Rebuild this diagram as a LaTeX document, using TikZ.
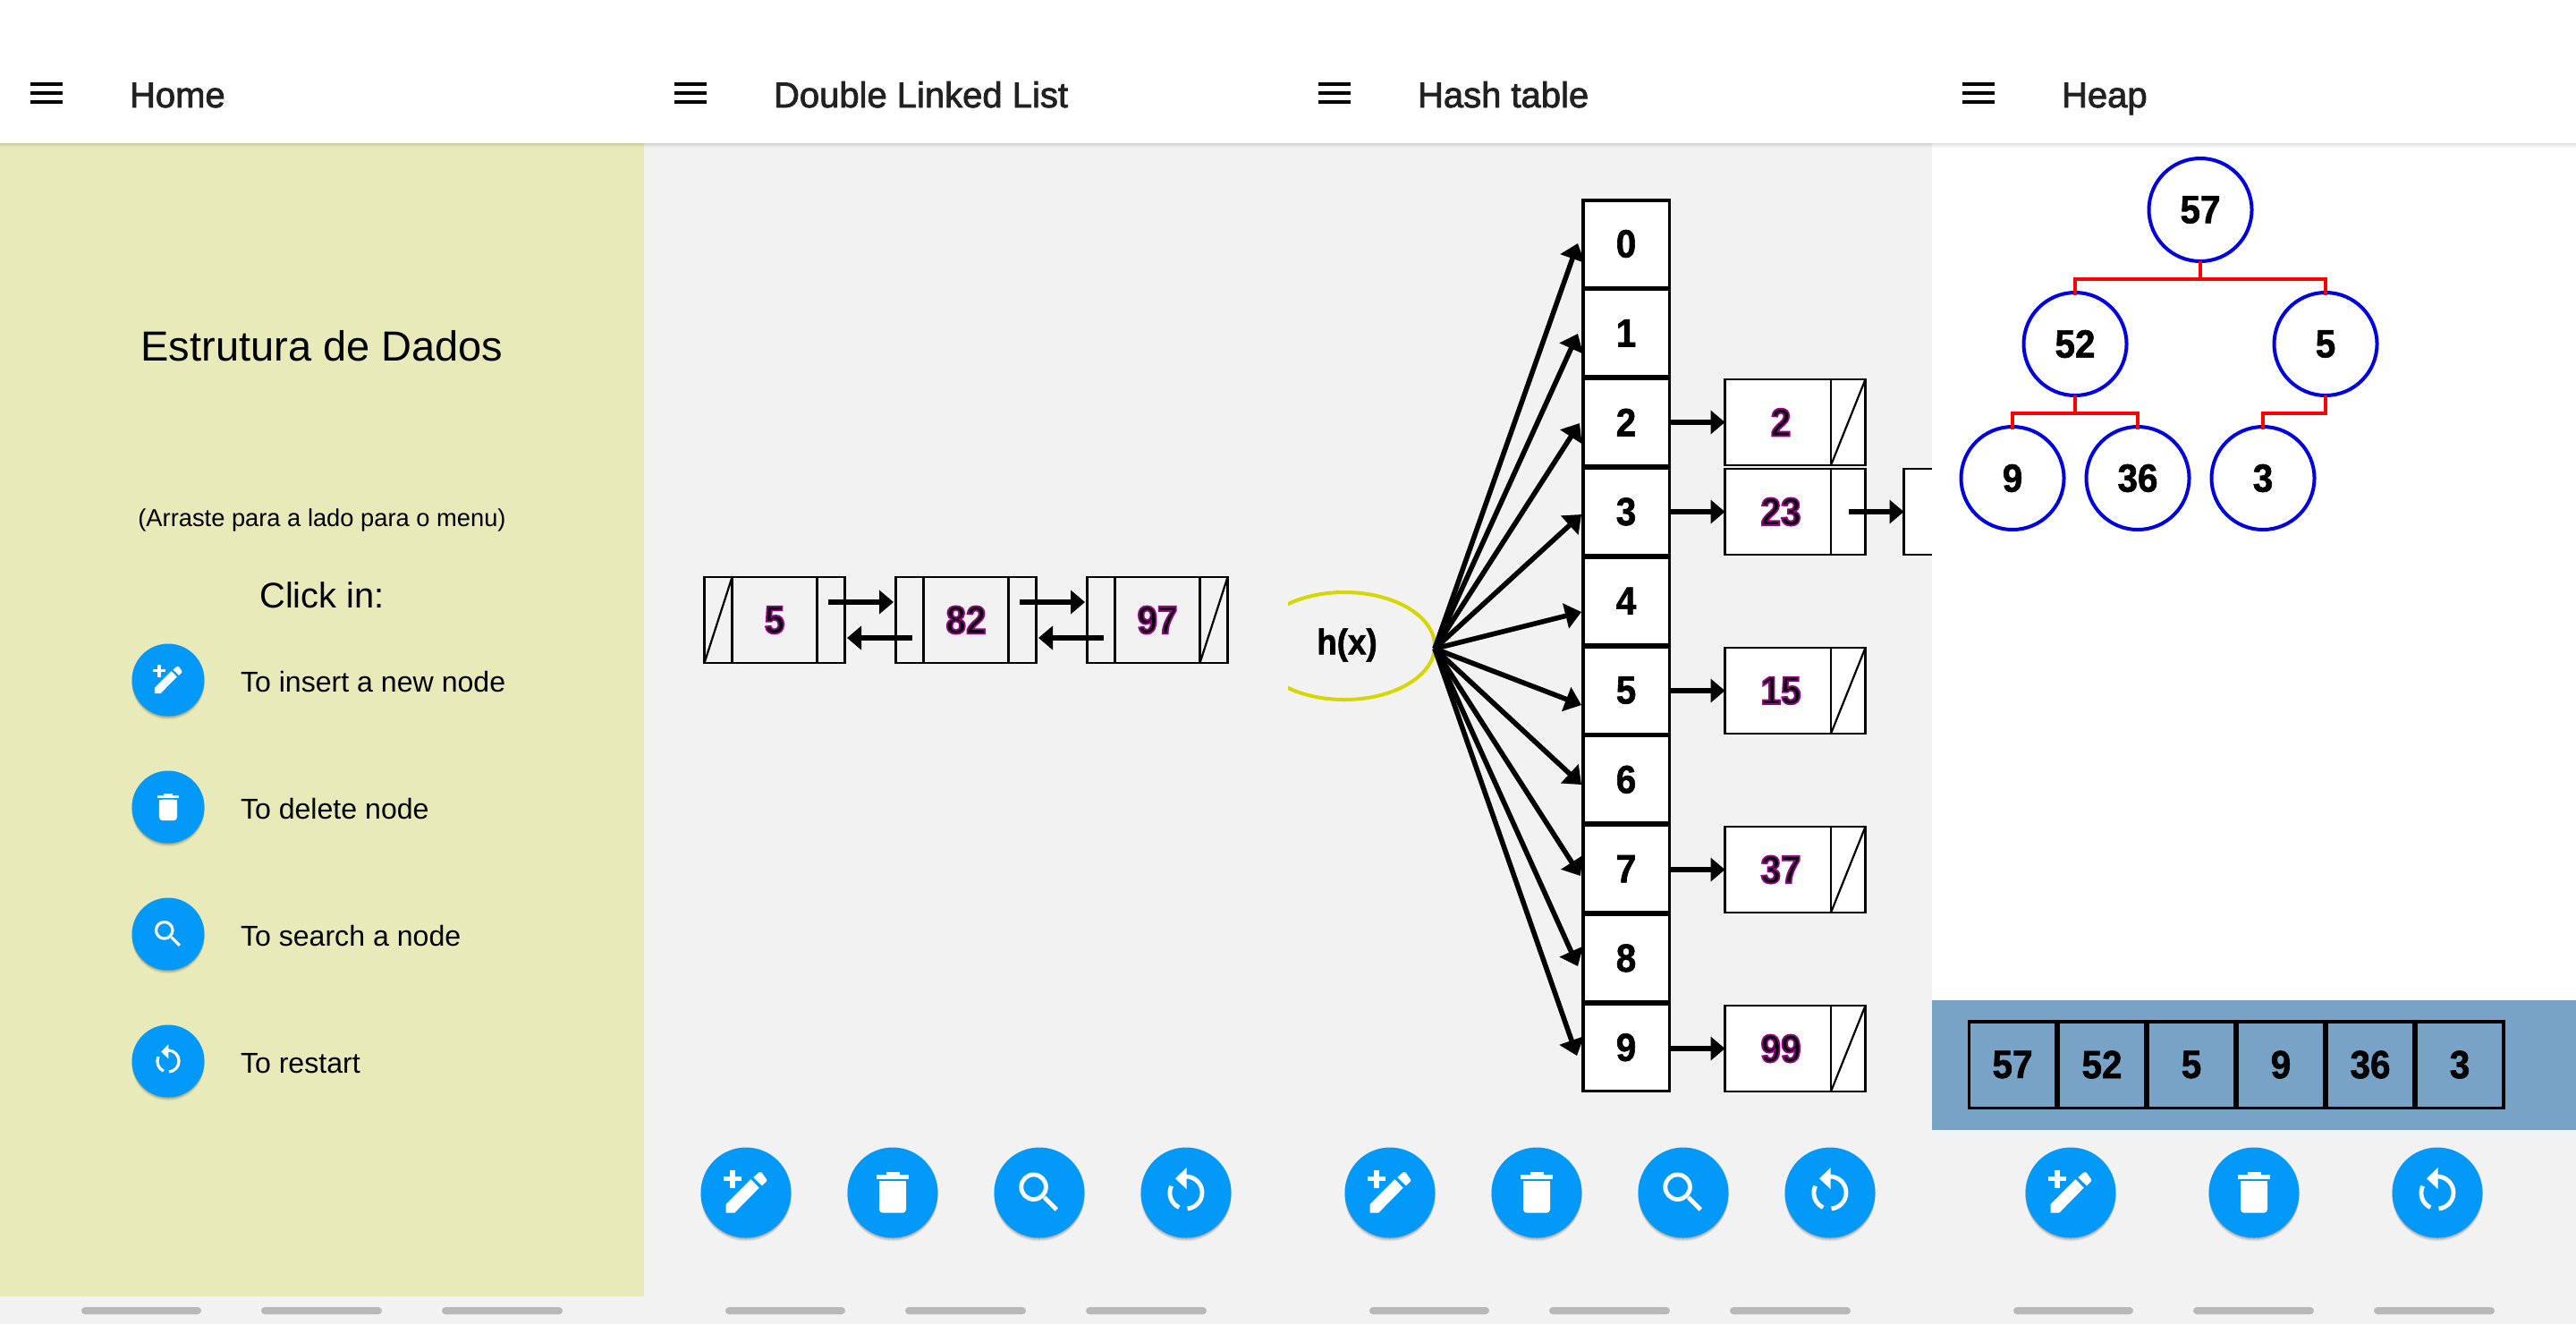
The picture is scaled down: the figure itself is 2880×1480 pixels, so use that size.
\documentclass[tikz,border=0pt]{standalone}
\usepackage{fontspec}
\setmainfont{Liberation Sans}
\newfontfamily\numfont[FakeStretch=0.92]{Liberation Sans Bold}
\usetikzlibrary{arrows.meta,calc,shapes.geometric}
\definecolor{panelyellow}{HTML}{E8EBB9}
\definecolor{panelgray}{HTML}{F2F2F2}
\definecolor{stripblue}{HTML}{79A3C6}
\definecolor{fabblue}{HTML}{0299F8}
\definecolor{navgray}{HTML}{B8B8B8}
\definecolor{titleink}{HTML}{212121}
\definecolor{hashyellow}{HTML}{D6D600}
\definecolor{heapblue}{HTML}{0000E0}
\newcommand\pxf[1]{\fontsize{#1pt}{#1pt}\selectfont}
\newcommand\outl[1]{\special{pdf:code 2 Tr 0.9 w 0.6 0 0.55 RG}#1\special{pdf:code 0 Tr 0 G}}
\newcommand\bd[1]{\special{pdf:code 2 Tr 0.3 w 0 G}#1\special{pdf:code 0 Tr 0 G}}
\newcommand\medt[1]{\special{pdf:code 2 Tr 0.4 w 0.13 0.13 0.13 RG}#1\special{pdf:code 0 Tr 0 G}}
\tikzset{
  plain/.style={inner sep=0pt,outer sep=0pt},
  titletext/.style={plain,anchor=base west,text=titleink,font=\pxf{20}},
  itemtext/.style={plain,anchor=base west,font=\pxf{16.05}},
  numtext/.style={font=\numfont\pxf{22}},
  listbody/.style={plain,draw=black,line width=1.1pt,minimum width=78.5pt,minimum height=48pt,numtext},
  hashbody/.style={listbody,fill=white},
  hashcell/.style={plain,draw=black,line width=1.75pt,fill=white,minimum width=48.25pt,minimum height=48.75pt,numtext},
  heapcirc/.style={plain,circle,draw=heapblue,line width=2pt,fill=white,minimum size=57.5pt,numtext},
  heapline/.style={draw=red,line width=2pt},
  arrcell/.style={plain,draw=black,line width=1.75pt,minimum width=48.75pt,minimum height=48.25pt,numtext},
  bigarrow/.style={line width=3pt,-{Triangle[length=8pt,width=13pt]}},
  fanarrow/.style={line width=2.8pt,-{Triangle[length=9pt,width=14pt]}},
  thinline/.style={line width=1.1pt},
  iconline/.style={draw=white,line width=2.4pt},
  pics/iconpen/.style={code={
    \fill[white] (-25,-18) rectangle (-5,-13);
    \fill[white] (-18,-25) rectangle (-12,-5);
    \fill[white] (-22.5,13) -- (5.5,-15) -- (14.7,-5.3) -- (-12.9,22.7) -- (-22.5,22.7) -- cycle;
    \fill[white] (8.3,-17) -- (14.7,-22.7) -- (17.5,-22.7) -- (23,-14.7) -- (23,-12.7) -- (17.9,-7.7) -- cycle;
  }},
  pics/icontrash/.style={code={
    \fill[white] (-18,-20) rectangle (18,-15);
    \fill[white] (-7.3,-22.7) rectangle (7.5,-20);
    \fill[white,rounded corners=2pt] (-15,-12.7) -- (15,-12.7) -- (15,22.7) -- (-15,22.7) -- cycle;
    \fill[white] (-15,-12.7) rectangle (15,5);
  }},
  pics/iconsearch/.style={code={
    \draw[iconline] (-6.4,-6.3) circle (13.8);
    \draw[iconline] (5.5,5.3) -- (19.3,19);
  }},
  pics/iconrestart/.style={code={
    \fill[white] (0.5,-28) -- (-11.9,-15.7) -- (0.5,-4) -- cycle;
    \draw[iconline] (0,-18) arc[start angle=-90,end angle=85,radius=18];
    \draw[iconline] (-7.7,16.6) arc[start angle=115,end angle=205,radius=18];
  }},
}
\newcommand\fabdisc[3]{%
  \foreach \sh/\op in {4/0.05,3/0.07,2/0.09,1/0.1}{\fill[black,opacity=\op] (#1,#2+\sh) circle (#3);}
  \fill[fabblue] (#1,#2) circle (#3);}
\newcommand\bigfab[3]{\fabdisc{#1}{#2}{50.5}\pic at (#1,#2) {#3};}
\newcommand\smallfab[3]{\fabdisc{#1}{#2}{40.5}\pic[scale=.67,iconline/.style={draw=white,line width=1.6pt}] at (#1,#2) {#3};}
\newcommand\listdividers[1]{%
  \draw[thinline] ($(#1.north west)+(31,0)$) -- ($(#1.south west)+(31,0)$);
  \draw[thinline] ($(#1.north east)+(-31,0)$) -- ($(#1.south east)+(-31,0)$);}
\newcommand\hashdecor[2]{%
  \draw[thinline] ($(#1.north west)+(118.5,0)$) -- ($(#1.south west)+(118.5,0)$);
  \ifnum#2=1 \draw[thinline] ($(#1.south west)+(118.5,0)$) -- (#1.north east);\fi}
\begin{document}
\begin{tikzpicture}[x=0.5pt,y=-0.5pt]
\useasboundingbox (0,0) rectangle (2880,1480);
% backgrounds
\fill[white] (0,0) rectangle (2880,1480);
\fill[panelgray] (0,1449) rectangle (2880,1480);
\fill[panelyellow] (0,160) rectangle (720,1449);
\fill[panelgray] (720,160) rectangle (2160,1480);
% ---------- double linked list
\node[listbody] (a1) at (866,693) {\outl{5}};
\node[listbody] (a2) at (1080,693) {\outl{82}};
\node[listbody] (a3) at (1294,693) {\outl{97}};
\listdividers{a1}\listdividers{a2}\listdividers{a3}
\draw[thinline] (a1.south west) -- ($(a1.north west)+(31,0)$);
\draw[thinline] ($(a3.south east)+(-31,0)$) -- (a3.north east);
\coordinate (a12s) at (926,673); \coordinate (a12e) at (999,673);
\coordinate (a21s) at (1020,713); \coordinate (a21e) at (947,713);
\coordinate (a23s) at (1140,673); \coordinate (a23e) at (1213,673);
\coordinate (a32s) at (1234,713); \coordinate (a32e) at (1161,713);
\draw[bigarrow] (a12s) -- (a12e);
\draw[bigarrow] (a21s) -- (a21e);
\draw[bigarrow] (a23s) -- (a23e);
\draw[bigarrow] (a32s) -- (a32e);
% ---------- hash table
\begin{scope}
\clip (1440,160) rectangle (2160,1449);
\node[plain,ellipse,draw=hashyellow,line width=2pt,minimum width=101pt,minimum height=60pt] (hx) at (1503,722) {};
\end{scope}
\node[plain,font=\numfont\pxf{20}] (hxt) at (1506,721) {\bd{h(x)}};
\coordinate (hub) at (1604,725);
\foreach \n/\tx/\ty in {0/1764/272,1/1764/373,2/1766/473,3/1768/575,4/1768/684,5/1768/788,6/1768/877,7/1767/979,8/1764/1080,9/1763/1180}{
  \coordinate (t\n) at (\tx,\ty);
  \draw[fanarrow] (hub) -- (t\n);
}
\foreach \i in {0,...,9}{
  \node[hashcell] (c\i) at (1818,{272.5+99.8*\i}) {\bd{\i}};
}
\node[hashbody] (h2) at (2007,472) {\outl{2}\kern16pt};
\node[hashbody] (h3) at (2007,572) {\outl{23}\kern16pt};
\node[hashbody] (h5) at (2007,772) {\outl{15}\kern16pt};
\node[hashbody] (h7) at (2007,972) {\outl{37}\kern16pt};
\node[hashbody] (h9) at (2007,1172) {\outl{99}\kern16pt};
\node[hashbody] (hn) at (2207,572) {};
\hashdecor{h2}{1}\hashdecor{h3}{0}\hashdecor{h5}{1}\hashdecor{h7}{1}\hashdecor{h9}{1}
\foreach \c/\h/\y in {c2/h2/472,c3/h3/572,c5/h5/772,c7/h7/972,c9/h9/1172}{
  \draw[bigarrow] (\c.east |- 0,\y) -- (\h.west |- 0,\y);
}
\coordinate (h3s) at (2067,572);
\draw[bigarrow] (h3s) -- (hn.west);
% ---------- heap panel
\fill[white] (2160,160) rectangle (2880,1118);
\fill[stripblue] (2160,1118) rectangle (2880,1263);
\fill[panelgray] (2160,1263) rectangle (2880,1480);
\node[heapcirc] (p57) at (2460,234.5) {\bd{57}};
\node[heapcirc] (p52) at (2320,384.5) {\bd{52}};
\node[heapcirc] (p5) at (2600,384.5) {\bd{5}};
\node[heapcirc] (p9) at (2250,534.5) {\bd{9}};
\node[heapcirc] (p36) at (2390,534.5) {\bd{36}};
\node[heapcirc] (p3) at (2530,534.5) {\bd{3}};
\draw[heapline] (p57.south) -- ++(0,20) coordinate (j0);
\draw[heapline] (j0) -| ($(p52.north)+(0,3)$);
\draw[heapline] (j0) -| ($(p5.north)+(0,3)$);
\draw[heapline] (p52.south) -- ++(0,20) coordinate (j1);
\draw[heapline] (j1) -| ($(p9.north)+(0,3)$);
\draw[heapline] (j1) -| ($(p36.north)+(0,3)$);
\draw[heapline] (p5.south) -- ++(0,20) -| ($(p3.north)+(0,3)$);
\foreach \i/\v in {0/57,1/52,2/5,3/9,4/36,5/3}{
  \node[arrcell] (r\i) at ({2250+100*\i},1190) {\bd{\v}};
}
% ---------- buttons
\bigfab{834}{1333}{iconpen}\bigfab{998}{1333}{icontrash}\bigfab{1162}{1333}{iconsearch}\bigfab{1326}{1333}{iconrestart}
\bigfab{1554}{1333}{iconpen}\bigfab{1718}{1333}{icontrash}\bigfab{1882}{1333}{iconsearch}\bigfab{2046}{1333}{iconrestart}
\bigfab{2315}{1333}{iconpen}\bigfab{2520}{1333}{icontrash}\bigfab{2725}{1333}{iconrestart}
\smallfab{188}{760}{iconpen}\smallfab{188}{902}{icontrash}\smallfab{188}{1044}{iconsearch}\smallfab{188}{1186}{iconrestart}
% ---------- nav pills
\foreach \ox in {0,720,1440,2160}{
  \fill[navgray,rounded corners=2pt] (\ox+91,1461) rectangle (\ox+225,1469);
  \fill[navgray,rounded corners=2pt] (\ox+292,1461) rectangle (\ox+427,1469);
  \fill[navgray,rounded corners=2pt] (\ox+494,1461) rectangle (\ox+629,1469);
}
% ---------- home text
\node[plain,font=\pxf{23.5},anchor=base] (hometitle) at (360,403) {Estrutura de Dados};
\node[plain,font=\pxf{13.65},anchor=base] (homesub) at (360,588) {(Arraste para a lado para o menu)};
\node[plain,font=\pxf{19.9},anchor=base] (homeclick) at (360,679) {Click in:};
\node[itemtext] (i1) at (269,773) {To insert a new node};
\node[itemtext] (i2) at (269,915) {To delete node};
\node[itemtext] (i3) at (269,1057.5) {To search a node};
\node[itemtext] (i4) at (269,1199) {To restart};
% ---------- header shadows and hamburgers
\foreach \d in {1,2,3,4,5}{
  \fill[black,opacity=0.025] (0,160) rectangle (2880,160+\d);
}
\foreach \ox in {0,720,1440,2160}{
  \fill[black] (\ox+34,92) rectangle (\ox+70,96);
  \fill[black] (\ox+34,102) rectangle (\ox+70,106);
  \fill[black] (\ox+34,112) rectangle (\ox+70,116);
}
\node[titletext] (t1) at (145,120) {\medt{Home}};
\node[titletext] (t2) at (865,120) {\medt{Double Linked List}};
\node[titletext] (t3) at (1585,120) {\medt{Hash table}};
\node[titletext] (t4) at (2305,120) {\medt{Heap}};
\end{tikzpicture}
\end{document}
